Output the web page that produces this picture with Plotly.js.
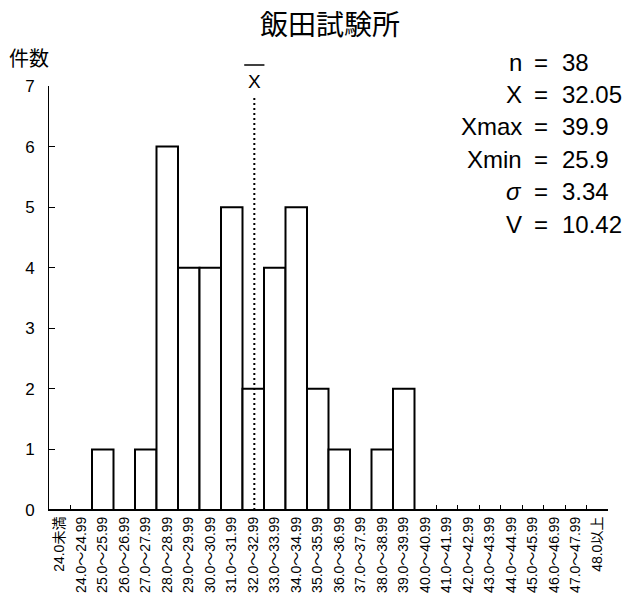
<!DOCTYPE html>
<html>
<head>
<meta charset="utf-8">
<script src="https://cdn.plot.ly/plotly-3.0.1.min.js"></script>
<style>html,body{margin:0;padding:0;background:#fff;}#chart{width:627px;height:597px;}</style>
</head>
<body>
<div id="chart"></div>
<script>
const categories = ["24.0未満","24.0～24.99","25.0～25.99","26.0～26.99","27.0～27.99","28.0～28.99",
  "29.0～29.99","30.0～30.99","31.0～31.99","32.0～32.99","33.0～33.99","34.0～34.99","35.0～35.99",
  "36.0～36.99","37.0～37.99","38.0～38.99","39.0～39.99","40.0～40.99","41.0～41.99","42.0～42.99",
  "43.0～43.99","44.0～44.99","45.0～45.99","46.0～46.99","47.0～47.99","48.0以上"];
const counts = [0,0,1,0,1,6,4,4,5,2,4,5,2,1,0,1,2,0,0,0,0,0,0,0,0,0];
const yTicks = [0,1,2,3,4,5,6,7];
const statLabels = ["n","X","Xmax","Xmin","<i>σ</i>","V"];
const statValues = ["38","32.05","39.9","25.9","3.34","10.42"];
const meanValue = 32.05;
const chartTitle = "飯田試験所";
const yTitle = "件数";

const latin = "Liberation Sans, Arial, Noto Sans CJK JP, sans-serif";
const cjk = "Noto Sans CJK JP, sans-serif";

// mean position on the category axis
const binLabel = Math.floor(meanValue).toFixed(1) + "～" + Math.floor(meanValue) + ".99";
const meanPos = categories.indexOf(binLabel) + (meanValue - Math.floor(meanValue));

const W = 627, H = 597, L = 49, R = 19, T = 86, B = 87;
const px2paperX = p => (p - L) / (W - L - R);
const px2paperY = p => (H - B - p) / (H - T - B);

const annotations = [];
statLabels.forEach((lab, i) => {
  const yc = px2paperY(62 + i * 32.4);
  annotations.push({xref:'paper', yref:'paper', x:px2paperX(524), y:yc, xanchor:'right', yanchor:'middle',
    text:lab, showarrow:false, font:{family:latin, size:24, color:'#000'}});
  annotations.push({xref:'paper', yref:'paper', x:px2paperX(541), y:yc, xanchor:'center', yanchor:'middle',
    text:'=', showarrow:false, font:{family:latin, size:24, color:'#000'}});
  annotations.push({xref:'paper', yref:'paper', x:px2paperX(560), y:yc, xanchor:'left', yanchor:'middle',
    text:statValues[i], showarrow:false, font:{family:latin, size:24, color:'#000'}});
});
annotations.push({xref:'x', yref:'paper', x:meanPos, y:px2paperY(81.5), xanchor:'center', yanchor:'middle',
  text:'X', showarrow:false, font:{family:latin, size:19, color:'#000'}});
annotations.push({xref:'paper', yref:'paper', x:px2paperX(29), y:px2paperY(57.5), xanchor:'center', yanchor:'middle',
  text:yTitle, showarrow:false, font:{family:cjk, size:20, color:'#000'}});

const shapes = [
  {type:'line', xref:'x', yref:'y', x0:meanPos, x1:meanPos, y0:0, y1:6.85,
   line:{color:'#000', width:2, dash:'2px,3px'}},
  {type:'line', xref:'x', yref:'paper', x0:meanPos-0.47, x1:meanPos+0.47, y0:px2paperY(65), y1:px2paperY(65),
   line:{color:'#000', width:1.5}}
];

const data = [{
  type:'bar', x:categories, y:counts,
  marker:{color:'#fff', line:{color:'#000', width:2}},
  hoverinfo:'skip'
}];

const layout = {
  width:W, height:H,
  margin:{l:L, r:R, t:T, b:B, pad:0},
  paper_bgcolor:'#fff', plot_bgcolor:'#fff',
  showlegend:false,
  bargap:0,
  title:{text:chartTitle, font:{family:cjk, size:28, color:'#000'}, x:330/W, xanchor:'center', y:1-25/H, yanchor:'middle', xref:'container', yref:'container'},
  xaxis:{type:'category', range:[-0.5, categories.length-0.5], tickson:'boundaries',
    ticks:'inside', ticklen:5, tickcolor:'#000', tickwidth:1,
    showline:true, linecolor:'#000', linewidth:1, showgrid:false, zeroline:false,
    tickangle:-90, tickfont:{family:latin, size:14, color:'#000'}, fixedrange:true},
  yaxis:{range:[0,7], tickvals:yTicks, ticks:'inside', ticklen:6, tickcolor:'#000', tickwidth:1,
    showline:true, linecolor:'#000', linewidth:1, showgrid:false, zeroline:false,
    tickfont:{family:latin, size:17, color:'#000'}, ticklabelstandoff:10, fixedrange:true},
  annotations:annotations,
  shapes:shapes
};

Plotly.newPlot('chart', data, layout, {displayModeBar:false, staticPlot:true});
</script>
</body>
</html>
